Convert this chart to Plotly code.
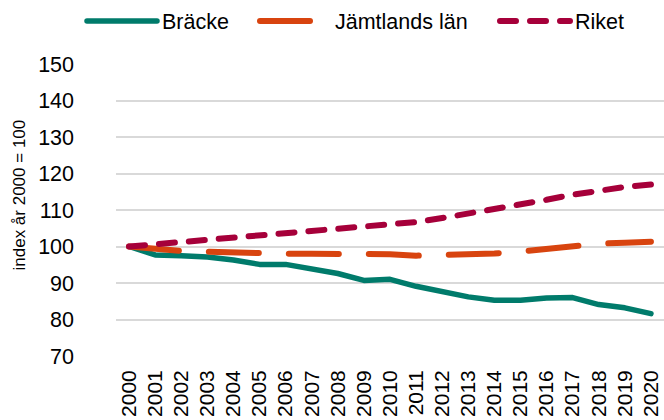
import plotly.graph_objects as go

years = [str(y) for y in range(2000, 2021)]
bracke = [100, 97.7, 97.5, 97.1, 96.3, 95.1, 95.1, 93.9, 92.6, 90.7, 91.0,
          89.1, 87.6, 86.2, 85.3, 85.3, 85.9, 86.0, 84.1, 83.2, 81.6]
jamtland = [100, 99.3, 98.8, 98.6, 98.3, 98.1, 98.0, 98.0, 98.0, 97.9, 97.9,
            97.5, 97.6, 97.8, 98.1, 98.6, 99.4, 100.4, 100.8, 101.0, 101.3]
riket = [100, 100.6, 101.3, 101.8, 102.4, 103.0, 103.7, 104.4, 104.9, 105.5, 106.0,
         106.7, 107.8, 109.0, 110.1, 111.2, 112.8, 114.2, 115.4, 116.3, 117.0]
yticks = [70, 80, 90, 100, 110, 120, 130, 140, 150]
ytitle = "index år 2000 = 100"

font = "Liberation Sans, Arial, sans-serif"
L, W, T, H = 116, 548, 64, 292


def px_x(p):
    return (p - L) / W


def px_y(p):
    return (T + H - p) / H


fig = go.Figure()
fig.add_trace(go.Scatter(x=years, y=bracke, name="Bräcke", mode="lines", legend="legend",
                         line=dict(color="#007B6B", width=5.5)))
fig.add_trace(go.Scatter(x=years, y=jamtland, name="Jämtlands län", mode="lines", legend="legend2",
                         line=dict(color="#D8440F", width=6, dash="50px,30px")))
fig.add_trace(go.Scatter(x=years, y=riket, name="Riket", mode="lines", legend="legend3",
                         line=dict(color="#A6003A", width=6, dash="16px,14px")))

leg = dict(orientation="h", xanchor="left", yanchor="middle", y=px_y(21),
           font=dict(size=21.5), itemwidth=70, bgcolor="rgba(0,0,0,0)", borderwidth=0)
fig.update_layout(
    width=664, height=420,
    margin=dict(l=L, r=664 - L - W, t=T, b=420 - T - H),
    paper_bgcolor="white", plot_bgcolor="white",
    font=dict(family=font, size=21, color="#000000"),
    showlegend=True,
    legend=dict(leg, x=px_x(82)),
    legend2=dict(leg, x=px_x(255)),
    legend3=dict(leg, x=px_x(495)),
    xaxis=dict(type="category", range=[-0.5, 20.5], tickangle=-90, showgrid=False,
               showline=False, ticks="", tickfont=dict(size=21), automargin=False,
               ticklabelstandoff=9),
    yaxis=dict(range=[70, 150], tickvals=yticks, showgrid=True, gridcolor="#D9D9D9",
               gridwidth=1.5, zeroline=False, showline=False, ticks="",
               tickfont=dict(size=21.5), automargin=False, ticklabelstandoff=41),
    annotations=[dict(text=ytitle, xref="paper", yref="paper", x=px_x(18.5),
                      y=px_y(195), textangle=-90, showarrow=False,
                      font=dict(size=17), xanchor="center", yanchor="middle")],
)
post = """
document.body.style.margin='0';
document.querySelectorAll('path.js-line').forEach(function(e){
  e.style.strokeLinecap='round'; e.style.strokeLinejoin='round';});
"""
fig.write_html("out.html", post_script=post, config={"displayModeBar": False})
